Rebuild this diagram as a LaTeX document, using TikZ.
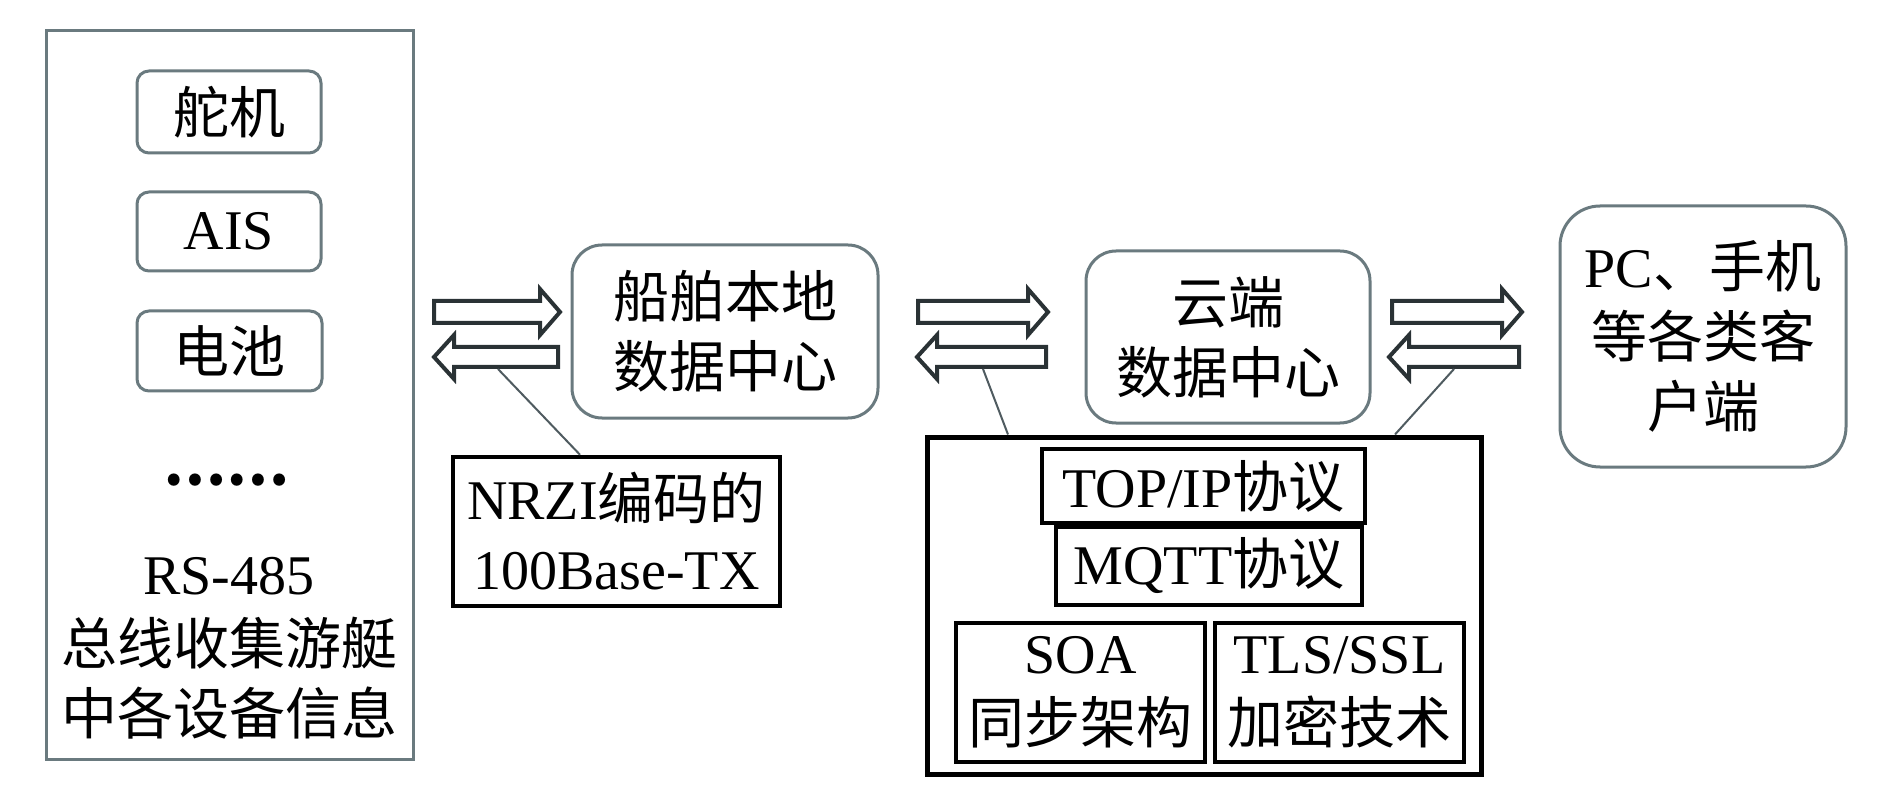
\documentclass[tikz,border=0pt]{standalone}
\usepackage{fontspec}
\setmainfont{Liberation Serif}
\newfontfamily\zh{Noto Sans CJK SC}
\definecolor{boxgray}{HTML}{6A7A7F}
\definecolor{arrowdark}{HTML}{2A3235}
\definecolor{conngray}{HTML}{4F5B60}
\begin{document}
\begin{tikzpicture}[x=1pt,y=-1pt,
  txt/.style={font=\fontsize{56}{70}\selectfont, align=center, inner sep=0pt},
  graybox/.style={draw=boxgray, line width=3pt, fill=white, inner sep=0pt},
  devbox/.style={graybox, txt, rounded corners=12pt},
  centerbox/.style={graybox, txt, rounded corners=30pt},
  blackbox/.style={draw=black, line width=4.5pt, fill=white, txt},
  fatarrow/.style={draw=arrowdark, line width=4pt, fill=white, line join=miter},
  conn/.style={draw=conngray, line width=2pt},
]
\useasboundingbox (0,0) rectangle (1890,791);

% left bus box
\node[graybox, minimum width=367pt, minimum height=728pt] (bus) at (229.5,395) {};
\node[devbox, minimum width=184pt, minimum height=82pt] (duoji) at (229,112) {\zh 舵机};
\node[devbox, minimum width=184pt, minimum height=79pt] (ais) at (229,231.5) {AIS};
\node[devbox, minimum width=185pt, minimum height=80pt] (dianchi) at (229.5,351) {\zh 电池};
\node[txt] (dots) at (226,480) {\zh\bfseries ……};
\node[txt] (bustext) at (229,648) {RS-485\\{\zh 总线收集游艇}\\{\zh 中各设备信息}};

% center boxes
\node[centerbox, minimum width=306pt, minimum height=173pt] (ship) at (725,331.5) {{\zh 船舶本地}\\{\zh 数据中心}};
\node[centerbox, minimum width=284pt, minimum height=172pt] (cloud) at (1228,337) {{\zh 云端}\\{\zh 数据中心}};
\node[graybox, txt, rounded corners=40pt, minimum width=286pt, minimum height=261pt] (pc) at (1703,336.5) {PC{\zh 、手机}\\{\zh 等各类客}\\{\zh 户端}};

% black label boxes
\node[blackbox, minimum width=327pt, minimum height=149pt] (nrzi) at (616.5,531.5) {NRZI{\zh 编码的}\\100Base-TX};
\node[draw=black, line width=5pt, fill=white, minimum width=554pt, minimum height=337pt, inner sep=0pt] (proto) at (1204,605.5) {};
\node[blackbox, minimum width=323pt, minimum height=74pt] (tcp) at (1203.5,486) {TOP/IP{\zh 协议}};
\node[blackbox, minimum width=306pt, minimum height=78pt] (mqtt) at (1209,566) {MQTT{\zh 协议}};
\node[blackbox, minimum width=249pt, minimum height=139pt] (soa) at (1080.5,692.5) {SOA\\{\zh 同步架构}};
\node[blackbox, minimum width=249pt, minimum height=139pt] (tls) at (1339.5,692.5) {TLS/SSL\\{\zh 加密技术}};

% arrow pair 1
\draw[fatarrow] (434,301) -- ++(106,0) -- ++(0,-12) -- ++(20,23) -- ++(-20,23) -- ++(0,-12) -- ++(-106,0) -- cycle;
\draw[fatarrow] (558,347) -- ++(0,20) -- ++(-104,0) -- ++(0,12) -- ++(-20,-22) -- ++(20,-22) -- ++(0,12) -- cycle;
% arrow pair 2
\draw[fatarrow] (918,301) -- ++(110,0) -- ++(0,-12) -- ++(20,23) -- ++(-20,23) -- ++(0,-12) -- ++(-110,0) -- cycle;
\draw[fatarrow] (1046,347) -- ++(0,20) -- ++(-109,0) -- ++(0,12) -- ++(-20,-22) -- ++(20,-22) -- ++(0,12) -- cycle;
% arrow pair 3
\draw[fatarrow] (1392,301) -- ++(110,0) -- ++(0,-12) -- ++(20,23) -- ++(-20,23) -- ++(0,-12) -- ++(-110,0) -- cycle;
\draw[fatarrow] (1519,347) -- ++(0,20) -- ++(-110,0) -- ++(0,12) -- ++(-20,-22) -- ++(20,-22) -- ++(0,12) -- cycle;

% connectors
\coordinate (c1) at (498,369);
\coordinate (c2) at (983,369);
\coordinate (c3) at (1454,369);
\draw[conn] (c1) -- (580,0 |- nrzi.north);
\draw[conn] (c2) -- (1008,0 |- proto.north);
\draw[conn] (c3) -- (1395,0 |- proto.north);
\end{tikzpicture}
\end{document}
